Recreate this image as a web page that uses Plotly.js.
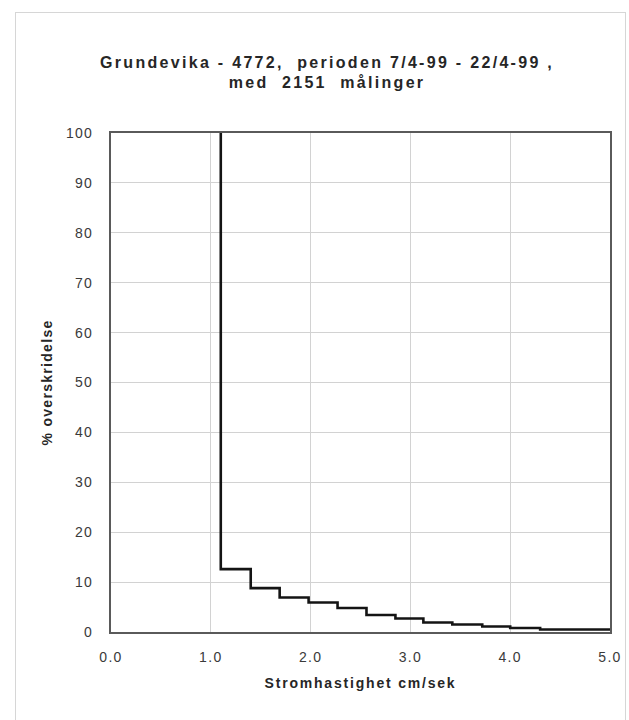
<!DOCTYPE html>
<html>
<head>
<meta charset="utf-8">
<script src="https://cdn.plot.ly/plotly-3.0.1.min.js"></script>
<style>
  html, body { margin: 0; padding: 0; background: #ffffff; }
  #frame { position: absolute; left: 15px; top: 12px; width: 609px; height: 740px; border: 1px solid #d6d6d6; }
  #chart { position: absolute; left: 0; top: 0; width: 629px; height: 720px; }
  #chart .gtitle { letter-spacing: 2.3px; }
  #chart .xtitle { letter-spacing: 1.8px; }
  #chart .ytitle { letter-spacing: 1.3px; }
  #chart .xtick text, #chart .ytick text { letter-spacing: 1.3px; }
</style>
</head>
<body>
<div id="frame"></div>
<div id="chart"></div>
<script>
// Step curve: exceedance percentage vs current speed (cm/s)
const speed = [1.1, 1.1, 1.4, 1.69, 1.98, 2.27, 2.56, 2.85, 3.13, 3.42, 3.72, 4.0, 4.3, 5.0];
const exceed = [100, 12.6, 8.8, 6.9, 5.9, 4.8, 3.4, 2.7, 1.9, 1.5, 1.1, 0.8, 0.5, 0.5];
const xTicks = [0, 1, 2, 3, 4, 5];
const yTicks = [0, 10, 20, 30, 40, 50, 60, 70, 80, 90, 100];
const titleText = 'Grundevika - 4772,  perioden 7/4-99 - 22/4-99 ,<br>med  2151  målinger';
const xTitle = 'Stromhastighet cm/sek';
const yTitle = '% overskridelse';

const trace = {
  x: speed,
  y: exceed,
  type: 'scatter',
  mode: 'lines',
  line: { shape: 'hv', color: '#141414', width: 2.6 },
  hoverinfo: 'skip'
};

const font = 'Liberation Sans, Arial, sans-serif';

const layout = {
  width: 629,
  height: 720,
  margin: { l: 111, r: 19, t: 133, b: 88 },
  paper_bgcolor: 'rgba(0,0,0,0)',
  plot_bgcolor: '#ffffff',
  showlegend: false,
  title: {
    text: titleText,
    x: 0.52, xanchor: 'center',
    y: 0.906, yanchor: 'middle',
    font: { family: font, size: 16, color: '#262626', weight: 'bold' }
  },
  xaxis: {
    range: [0, 5],
    tickvals: xTicks,
    tickformat: '.1f',
    showgrid: true,
    gridcolor: '#d2d2d2',
    gridwidth: 1,
    zeroline: false,
    showline: true,
    linecolor: '#5a5a5a',
    linewidth: 2,
    mirror: true,
    ticks: 'outside',
    ticklen: 11,
    tickcolor: 'rgba(0,0,0,0)',
    tickfont: { family: font, size: 14, color: '#3a3a3a' },
    title: { text: xTitle, standoff: 14, font: { family: font, size: 14, color: '#262626', weight: 'bold' } }
  },
  yaxis: {
    range: [0, 100],
    tickvals: yTicks,
    showgrid: true,
    gridcolor: '#d2d2d2',
    gridwidth: 1,
    zeroline: false,
    showline: true,
    linecolor: '#5a5a5a',
    linewidth: 2,
    mirror: true,
    ticks: 'outside',
    ticklen: 13,
    tickcolor: 'rgba(0,0,0,0)',
    tickfont: { family: font, size: 14, color: '#3a3a3a' },
    title: { text: yTitle, standoff: 14, font: { family: font, size: 14, color: '#262626', weight: 'bold' } }
  }
};

Plotly.newPlot('chart', [trace], layout, { displayModeBar: false, staticPlot: true });
</script>
</body>
</html>
